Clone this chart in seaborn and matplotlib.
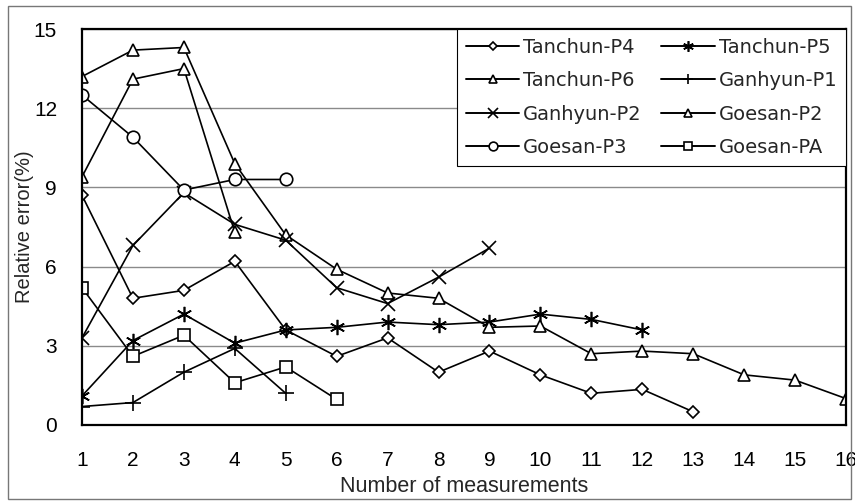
import matplotlib
matplotlib.use("Agg")
import matplotlib.pyplot as plt
import matplotlib.patches as mpatches
import numpy as np
import pandas as pd
import seaborn as sns

# Relative error (%) by number of measurements, per site
tanchun_p4 = [8.7, 4.8, 5.1, 6.2, 3.6, 2.6, 3.3, 2.0, 2.8, 1.9, 1.2, 1.35, 0.5]
tanchun_p5 = [1.1, 3.2, 4.2, 3.1, 3.6, 3.7, 3.9, 3.8, 3.9, 4.2, 4.0, 3.6]
tanchun_p6 = [13.2, 14.2, 14.3, 9.9, 7.2, 5.9, 5.0, 4.8, 3.7, 3.75, 2.7, 2.8, 2.7, 1.9, 1.7, 1.0]
ganhyun_p1 = [0.7, 0.85, 2.0, 2.9, 1.2]
ganhyun_p2 = [3.3, 6.8, 8.8, 7.6, 7.0, 5.2, 4.6, 5.6, 6.7]
goesan_p2 = [9.4, 13.1, 13.5, 7.3]
goesan_p3 = [12.5, 10.9, 8.9, 9.3, 9.3]
goesan_pa = [5.2, 2.6, 3.4, 1.6, 2.2, 0.97]

series_names = ["Tanchun-P4", "Tanchun-P5", "Tanchun-P6", "Ganhyun-P1",
                "Ganhyun-P2", "Goesan-P2", "Goesan-P3", "Goesan-PA"]
series_values = [tanchun_p4, tanchun_p5, tanchun_p6, ganhyun_p1,
                 ganhyun_p2, goesan_p2, goesan_p3, goesan_pa]
x_ticks = list(range(1, 17))
y_ticks = [0, 3, 6, 9, 12, 15]

markers = {
    "Tanchun-P4": ("D", 6.5),
    "Tanchun-P5": ((6, 2, 0), 11),
    "Tanchun-P6": ("^", 9),
    "Ganhyun-P1": ("+", 11),
    "Ganhyun-P2": ("x", 10),
    "Goesan-P2": ("^", 9),
    "Goesan-P3": ("o", 9),
    "Goesan-PA": ("s", 8.5),
}

rows = []
for name, vals in zip(series_names, series_values):
    for i, v in enumerate(vals):
        rows.append({"series": name, "n": i + 1, "err": v})
df = pd.DataFrame(rows)

sns.set_style("white")
plt.rcParams["font.family"] = ["Liberation Sans", "DejaVu Sans"]

fig = plt.figure(figsize=(8.55, 5.03), dpi=100)
ax = fig.add_axes([82 / 855, 1 - 425 / 503, 764 / 855, 396 / 503])

handles = {}
for name in series_names:
    m, ms = markers[name]
    sub = df[df["series"] == name]
    sns.lineplot(data=sub, x="n", y="err", ax=ax, color="black",
                 marker=m, markersize=ms, markerfacecolor="white",
                 markeredgecolor="black", markeredgewidth=1.2,
                 linewidth=1.2, label=name, legend=False)
    handles[name] = ax.lines[-1]

ax.set_xlim(1, 16)
ax.set_ylim(0, 15)
ax.set_xticks(x_ticks)
ax.set_yticks(y_ticks)
ax.yaxis.grid(True, color="#8a8a8a", linewidth=1.0)
ax.set_axisbelow(True)
for sp in ax.spines.values():
    sp.set_color("black")
    sp.set_linewidth(1.6)
    sp.set_visible(True)
ax.tick_params(axis="x", direction="in", length=4, width=1, pad=19,
               labelsize=15, colors="black")
ax.tick_params(axis="y", length=0, pad=18, labelsize=15, colors="black")

ax.set_xlabel("Number of measurements", fontsize=15.5, labelpad=4)
ax.set_ylabel("Relative error(%)", fontsize=14.5, labelpad=0)

# two-column legend filled row by row
col1 = ["Tanchun-P4", "Tanchun-P6", "Ganhyun-P2", "Goesan-P3"]
col2 = ["Tanchun-P5", "Ganhyun-P1", "Goesan-P2", "Goesan-PA"]
order = col1 + col2
leg_handles = []
for name in order:
    h = handles[name]
    lh = plt.Line2D([], [], color="black", linewidth=1.4,
                    marker=h.get_marker(), markersize=h.get_markersize() * 0.7,
                    markerfacecolor="white", markeredgecolor="black",
                    markeredgewidth=1.2)
    leg_handles.append(lh)
leg = ax.legend(leg_handles, order, ncol=2, loc="upper right",
                bbox_to_anchor=(1.0, 1.0), borderaxespad=0.0,
                frameon=True, fancybox=False, edgecolor="black",
                framealpha=1.0, handlelength=2.75,
                handletextpad=0.2, columnspacing=1.0, labelspacing=0.74,
                borderpad=0.45,
                prop={"family": ["DejaVu Sans"], "size": 14})
leg.get_frame().set_linewidth(0.8)

# thin outer border around the whole figure
fig.patches.append(mpatches.Rectangle((8 / 855, 4 / 503), 843 / 855, 493 / 503,
                                      transform=fig.transFigure, fill=False,
                                      edgecolor="#777777", linewidth=1.0))

fig.savefig("out.png", dpi=100)
